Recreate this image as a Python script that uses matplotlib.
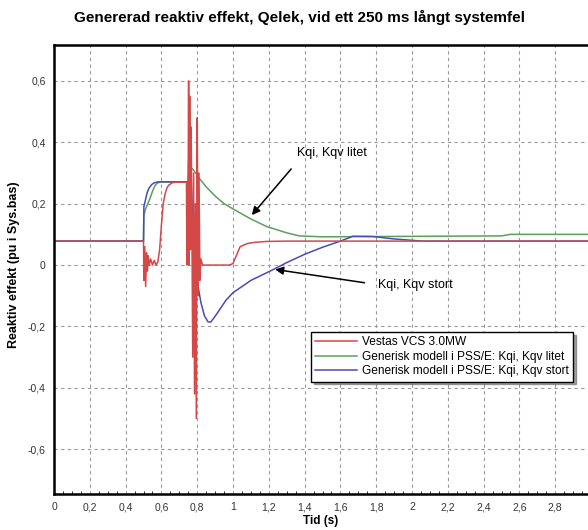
import matplotlib.pyplot as plt
from matplotlib.ticker import FuncFormatter, MultipleLocator

plt.rcParams['font.family'] = ['Liberation Sans', 'DejaVu Sans']

# Vestas VCS 3.0MW (red)
red_t = [0, 0.5, 0.502, 0.507, 0.512, 0.517, 0.522, 0.527, 0.532, 0.54, 0.55, 0.56,
         0.57, 0.58, 0.59, 0.60, 0.61, 0.62, 0.63, 0.64, 0.66, 0.68, 0.70, 0.74,
         0.742, 0.745, 0.748, 0.752, 0.755, 0.758, 0.762, 0.766, 0.770, 0.775,
         0.780, 0.785, 0.79, 0.795, 0.80, 0.805, 0.81, 0.815, 0.82, 0.83, 0.98,
         1.0, 1.04, 1.08, 1.12, 1.19, 1.3, 2.98]
red_q = [0.078, 0.078, -0.05, 0.06, -0.07, 0.04, -0.02, 0.03, 0.0, 0.02, 0.0, 0.015,
         0.0, 0.01, 0.05, 0.13, 0.2, 0.23, 0.25, 0.26, 0.268, 0.27, 0.27, 0.27,
         0.0, 0.27, 0.1, 0.6, 0.0, 0.55, 0.05, 0.45, 0.15, -0.3,
         0.3, -0.42, 0.2, -0.5, 0.48, -0.1, 0.3, -0.05, 0.02, 0.0, 0.0,
         0.005, 0.06, 0.07, 0.074, 0.077, 0.078, 0.078]

# Generisk modell, Kqi, Kqv litet (green)
green_t = [0, 0.5, 0.502, 0.51, 0.52, 0.535, 0.55, 0.565, 0.58, 0.6, 0.75, 0.755,
           0.77, 0.785, 0.815, 0.85, 0.9, 0.95, 1.0, 1.1, 1.19, 1.3, 1.37, 1.5,
           2.5, 2.55, 2.98]
green_q = [0.078, 0.078, 0.16, 0.18, 0.195, 0.215, 0.24, 0.26, 0.268, 0.271, 0.271, 0.29,
           0.316, 0.305, 0.28, 0.255, 0.225, 0.2, 0.183, 0.15, 0.125, 0.105, 0.095, 0.092,
           0.095, 0.1, 0.1]

# Generisk modell, Kqi, Kqv stort (blue)
blue_t = [0, 0.5, 0.502, 0.51, 0.52, 0.53, 0.545, 0.56, 0.58, 0.75, 0.752, 0.755,
          0.758, 0.762, 0.768, 0.775, 0.785, 0.795, 0.805, 0.82, 0.84, 0.86, 0.875,
          0.89, 0.92, 0.96, 1.0, 1.1, 1.22, 1.3, 1.4, 1.5, 1.6, 1.67, 1.78, 1.9,
          2.06, 2.98]
blue_q = [0.078, 0.078, 0.19, 0.21, 0.235, 0.25, 0.262, 0.268, 0.271, 0.271, 0.33, 0.40,
          0.3, 0.36, 0.25, 0.15, 0.05, -0.02, -0.07, -0.12, -0.165, -0.185, -0.186,
          -0.175, -0.15, -0.115, -0.09, -0.05, -0.016, 0.008, 0.035, 0.058, 0.078, 0.094, 0.093, 0.085,
          0.078, 0.078]

labels = ['Vestas VCS 3.0MW',
          'Generisk modell i PSS/E: Kqi, Kqv litet',
          'Generisk modell i PSS/E: Kqi, Kqv stort']

fig = plt.figure(figsize=(5.88, 5.3), dpi=100)
ax = fig.add_axes([54 / 588, 1 - 494 / 530, 1 - 54 / 588, (494 - 45) / 530])

ax.plot(green_t, green_q, color='#5aa05a', lw=1.1, label=labels[1])
ax.plot(blue_t, blue_q, color='#4a4ab8', lw=1.1, label=labels[2])
ax.plot(red_t, red_q, color='#d44848', lw=1.1, label=labels[0])

ax.set_xlim(0, 2.983)
ax.set_ylim(-0.746, 0.717)

fmt = FuncFormatter(lambda v, p: ('%g' % round(v, 2)).replace('.', ','))
ax.xaxis.set_major_locator(MultipleLocator(0.2))
ax.xaxis.set_minor_locator(MultipleLocator(0.05))
ax.yaxis.set_major_locator(MultipleLocator(0.2))
ax.xaxis.set_major_formatter(fmt)
ax.yaxis.set_major_formatter(fmt)
ax.tick_params(axis='both', which='major', labelsize=7.5, labelcolor='#333333', length=0, pad=6)
ax.tick_params(axis='x', which='minor', length=2, direction='in')
ax.grid(True, which='major', color='#999999', linestyle=(0, (3, 3)), lw=0.8)

for s in ['left', 'bottom', 'top']:
    ax.spines[s].set_linewidth(1.8)
ax.spines['right'].set_visible(False)

ax.set_xlabel('Tid (s)', fontsize=8.5, fontweight='bold', labelpad=2)
ax.set_ylabel('Reaktiv effekt (pu i Sys.bas)', fontsize=9, fontweight='bold', labelpad=3)
ax.yaxis.set_label_coords(-0.063, 0.51)
fig.text(0.51, 0.967, 'Genererad reaktiv effekt, Qelek, vid ett 250 ms långt systemfel',
         ha='center', va='center', fontsize=11, fontweight='bold')

ax.annotate('', xy=(1.095, 0.156), xytext=(1.335, 0.32),
            arrowprops=dict(arrowstyle='-|>', color='black', lw=1.1, mutation_scale=12))
ax.text(1.36, 0.365, 'Kqi, Kqv litet', fontsize=9, va='center')
ax.annotate('', xy=(1.22, -0.013), xytext=(1.75, -0.059),
            arrowprops=dict(arrowstyle='-|>', color='black', lw=1.1, mutation_scale=12))
ax.text(1.81, -0.065, 'Kqi, Kqv stort', fontsize=9, va='center')

h, l = ax.get_legend_handles_labels()
leg = ax.legend([h[2], h[0], h[1]], labels, loc='upper right', bbox_to_anchor=(0.972, 0.361),
                fontsize=8.6, frameon=True, fancybox=False, shadow=True, handlelength=3.5,
                borderpad=0.35, labelspacing=0.22, handletextpad=0.4, borderaxespad=0)
leg.get_frame().set_edgecolor('black')
leg.get_frame().set_linewidth(1.0)

fig.savefig('out.png', dpi=100)
